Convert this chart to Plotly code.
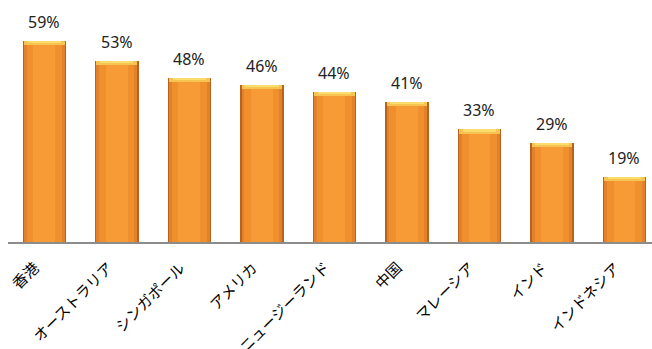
import plotly.graph_objects as go

categories = ["香港", "オーストラリア", "シンガポール", "アメリカ", "ニュージーランド",
              "中国", "マレーシア", "インド", "インドネシア"]
values = [0.59, 0.53, 0.48, 0.46, 0.44, 0.41, 0.33, 0.29, 0.19]
labels = ["59%", "53%", "48%", "46%", "44%", "41%", "33%", "29%", "19%"]

fig = go.Figure()
# layered bars to mimic the bevelled gradient look
layers = [(0.60, "#B5631E"), (0.56, "#E2812A"), (0.48, "#F08F2E"), (0.30, "#F79B36")]
for w, c in layers:
    fig.add_trace(go.Bar(x=categories, y=values, width=w, marker=dict(color=c, line=dict(width=0)),
                         hoverinfo="skip", showlegend=False))
bevel = 0.012
fig.add_trace(go.Bar(x=categories, y=[bevel] * len(values), base=[v - bevel for v in values],
                     width=0.56, marker=dict(color="#F7C452", line=dict(width=0)),
                     hoverinfo="skip", showlegend=False))
fig.add_trace(go.Bar(x=categories, y=[bevel / 2] * len(values), base=[v - bevel / 2 for v in values],
                     width=0.46, marker=dict(color="#FBDD6E", line=dict(width=0)),
                     hoverinfo="skip", showlegend=False))

for cat, v, t in zip(categories, values, labels):
    fig.add_annotation(x=cat, y=v, text=t, showarrow=False, yanchor="bottom", yshift=6,
                       font=dict(family="Noto Sans, DejaVu Sans, sans-serif", size=16, color="#222222"))

# category labels, rotated, anchored at top-right just below the axis
for cat in categories:
    fig.add_annotation(x=cat, y=0, text=cat, showarrow=False, textangle=-45,
                       xanchor="right", yanchor="top", yshift=-12, xshift=2,
                       font=dict(family="Noto Sans CJK JP", size=15, color="#000000"))

fig.update_layout(
    width=652, height=349,
    margin=dict(l=8, r=0, t=3, b=107),
    paper_bgcolor="white", plot_bgcolor="white",
    barmode="overlay", bargap=0,
    xaxis=dict(range=[-0.5, 8.38], showgrid=False, zeroline=False, showticklabels=False,
               showline=True, linecolor="#8C8C8C", linewidth=2, ticks=""),
    yaxis=dict(range=[0, 0.701], visible=False, showgrid=False),
)
fig.write_html("out.html")
